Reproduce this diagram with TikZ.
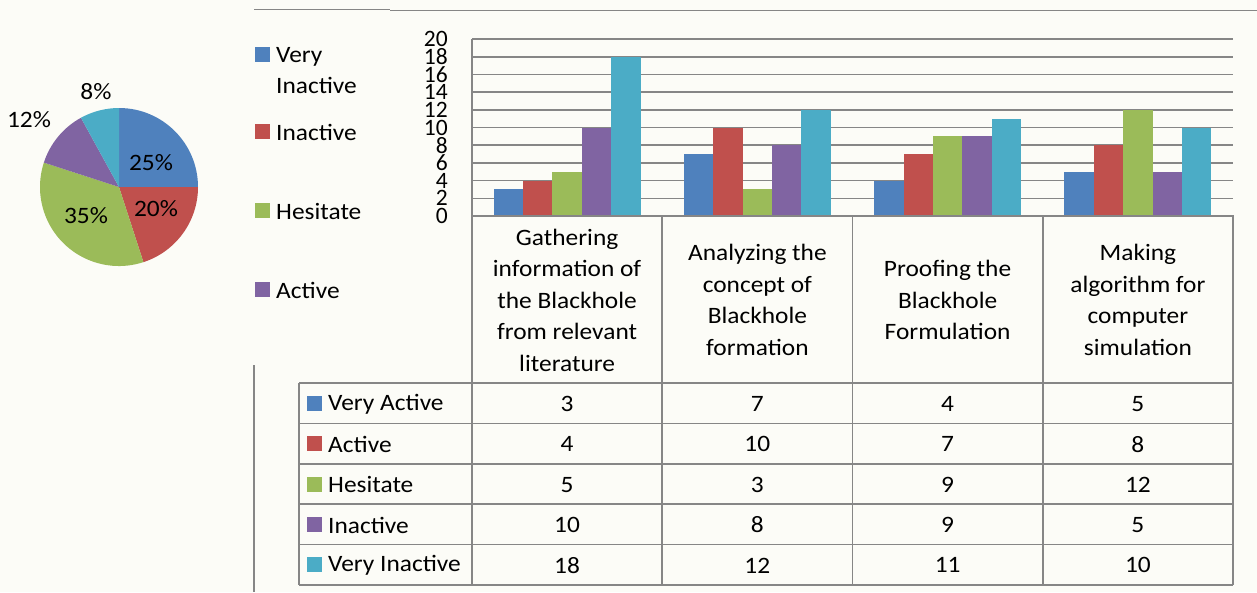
\documentclass[tikz,border=0pt]{standalone}
\usepackage{fontspec}
\setmainfont[FakeStretch=1.08]{Carlito}
\newfontfamily\axisfont{Carlito}
\usepackage{xcolor}
\definecolor{chartbg}{RGB}{252,252,247}
\definecolor{chartgray}{RGB}{134,134,134}
\definecolor{barblue}{RGB}{79,129,189}
\definecolor{barred}{RGB}{192,80,77}
\definecolor{bargreen}{RGB}{155,187,89}
\definecolor{barpurple}{RGB}{128,100,162}
\definecolor{barcyan}{RGB}{75,172,198}
\usepackage{tikz}
\usetikzlibrary{positioning}

\begin{document}
\begin{tikzpicture}[x=1pt,y=-1pt,
  txt/.style={font=\fontsize{23.5}{31.5}\selectfont,inner sep=0pt},
  axislbl/.style={font=\axisfont\fontsize{23.5}{28}\selectfont,inner sep=0pt,anchor=east},
  gridline/.style={draw=chartgray,line width=1.6},
  keybox/.style={minimum size=15,inner sep=0pt}]
\useasboundingbox (0,0) rectangle (1257,592);
\fill[chartbg] (0,0) rectangle (1257,592);

% chart frame
\draw[gridline] (254,9.5) -- (390,9.5);
\draw[gridline] (390,10.5) -- (1257,10.5);
\draw[gridline] (254,365) -- (254,592);

% pie
\coordinate (pc) at (119,187);
\foreach \a/\b/\c in {-90/0/barblue, 0/72/barred, 72/198/bargreen, 198/241.2/barpurple, 241.2/270/barcyan}
  \fill[\c] (pc) -- ++(\a:79) arc[start angle=\a,end angle=\b,radius=79] -- cycle;
\node[txt] (p25) at (151,163) {25\%};
\node[txt] (p20) at (156,209) {20\%};
\node[txt] (p35) at (86,216) {35\%};
\node[txt] (p12) at (29,120) {12\%};
\node[txt] (p8) at (96,92) {8\%};

% legend
\node[keybox,fill=barblue] (k1) at (262.5,54.5) {};
\node[txt,anchor=north west,align=left] (l1) at (276,47) {Very\\Inactive};
\node[keybox,fill=barred] (k2) at (262.5,131.5) {};
\node[txt,anchor=west] (l2) at (276,132) {Inactive};
\node[keybox,fill=bargreen] (k3) at (262.5,210.5) {};
\node[txt,anchor=west] (l3) at (276,211) {Hesitate};
\node[keybox,fill=barpurple] (k4) at (262.5,289.5) {};
\node[txt,anchor=west] (l4) at (276,290) {Active};

% value axis and grid
\foreach \t in {0,2,...,20} {
  \draw[gridline] (472,{216-8.85*\t}) -- (1233,{216-8.85*\t});
  \node[axislbl] (y\t) at (448,{216-8.85*\t}) {\t};
}

% bars and data table rows
\foreach \c/\name/\va/\vb/\vc/\vd [count=\s from 0] in
  {barblue/Very Active/3/7/4/5, barred/Active/4/10/7/8, bargreen/Hesitate/5/3/9/12,
   barpurple/Inactive/10/8/9/5, barcyan/Very Inactive/18/12/11/10} {
  \foreach \v [count=\g from 0] in {\va,\vb,\vc,\vd} {
    \fill[\c] ({493.6+190.25*\g+29.4*\s},216) rectangle ++(29.4,{-8.85*\v});
    \node[txt] (v\s-\g) at ({567.1+190.25*\g},{403.8+40.4*\s}) {\v};
  }
  \node[keybox,fill=\c] (t\s) at (314.5,{403.2+40.4*\s}) {};
  \node[txt,anchor=west] (n\s) at (328,{403.8+40.4*\s}) {\name};
}

% table lines
\draw[gridline] (472,39) -- (472,585);
\draw[gridline] (472,216) -- (1233,216) -- (1233,585);
\foreach \g in {1,2,3}
  \draw[gridline] ({472+190.25*\g},216) -- ({472+190.25*\g},585);
\foreach \r in {0,...,5}
  \draw[gridline] (299,{383+40.4*\r}) -- (1233,{383+40.4*\r});
\draw[gridline] (299,383) -- (299,585);

% categories
\node[txt,align=center] (c1) at (567.1,300) {Gathering\\information of\\the Blackhole\\from relevant\\literature};
\node[txt,align=center] (c2) at (757.4,300) {Analyzing the\\concept of\\Blackhole\\formation};
\node[txt,align=center] (c3) at (947.6,300) {Proofing the\\Blackhole\\Formulation};
\node[txt,align=center] (c4) at (1137.9,300) {Making\\algorithm for\\computer\\simulation};
\end{tikzpicture}
\end{document}
